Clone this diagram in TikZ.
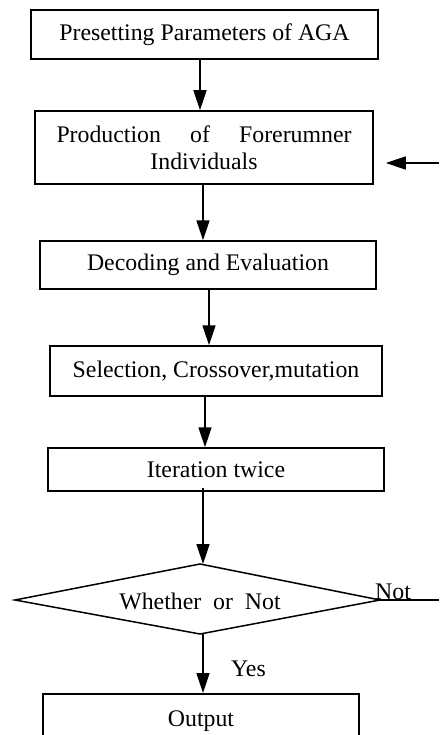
\documentclass[tikz,border=0pt]{standalone}
\usepackage{fontspec}
\setmainfont{Liberation Serif}
\usetikzlibrary{arrows.meta}
\begin{document}
\begin{tikzpicture}[x=1pt,y=-1pt,
  every node/.style={font=\fontsize{23.8}{27}\selectfont},
  box/.style={draw, line width=1.5pt, rectangle, inner sep=0pt, align=center},
  arr/.style={line width=1.5pt, -{Triangle[length=20pt,width=13pt]}},
  ln/.style={line width=1.5pt}]
\clip (0,0) rectangle (439,735);
\node[box, minimum width=347pt, minimum height=49pt] (b1) at (204.5,34.5) {Presetting Parameters of AGA};
\node[box, minimum width=338pt, minimum height=73pt] (b2) at (204,147.5)
  {\makebox[295pt]{Production\hfill of\hfill Forerumner}\\Individuals};
\node[box, minimum width=336pt, minimum height=48pt] (b3) at (208,265) {Decoding and Evaluation};
\node[box, minimum width=332pt, minimum height=50pt] (b4) at (216,371) {Selection, Crossover,mutation};
\node[box, minimum width=336pt, minimum height=43pt] (b5) at (216,469.5) {Iteration twice};
\coordinate (dt) at (200,564);
\coordinate (dl) at (15,600);
\coordinate (dr) at (380,600);
\coordinate (db) at (200,634);
\draw[ln, line join=miter] (dt) -- (dr) -- (db) -- (dl) -- cycle;
\node[inner sep=0pt] (d) at (200,601) {Whether\ \ or\ \ Not};
\node[box, anchor=north, minimum width=316pt, inner ysep=17pt, text depth=40pt] (out) at (201,693) {Output};
\node[anchor=base, inner sep=0pt] (yes) at (248.5,676) {Yes};
\node[anchor=base west, inner sep=0pt] (not) at (375,599) {Not};
\coordinate (r1) at (439,600);
\coordinate (r2) at (439,163);
\draw[arr] (b1.south -| 200,0) -- (b2.north -| 200,0);
\draw[arr] (b2.south -| 203,0) -- (b3.north -| 203,0);
\draw[arr] (b3.south -| 209,0) -- (b4.north -| 209,0);
\draw[arr] (b4.south -| 205,0) -- (b5.north -| 205,0);
\draw[arr] ([yshift=4pt]b5.south -| 203,0) -- (dt -| 203,0);
\draw[arr] (db -| 203,0) -- (out.north -| 203,0);
\draw[ln] (dr) -- (r1);
\draw[arr] (r2) -- ([xshift=12pt]b2.east |- r2);
\end{tikzpicture}
\end{document}
